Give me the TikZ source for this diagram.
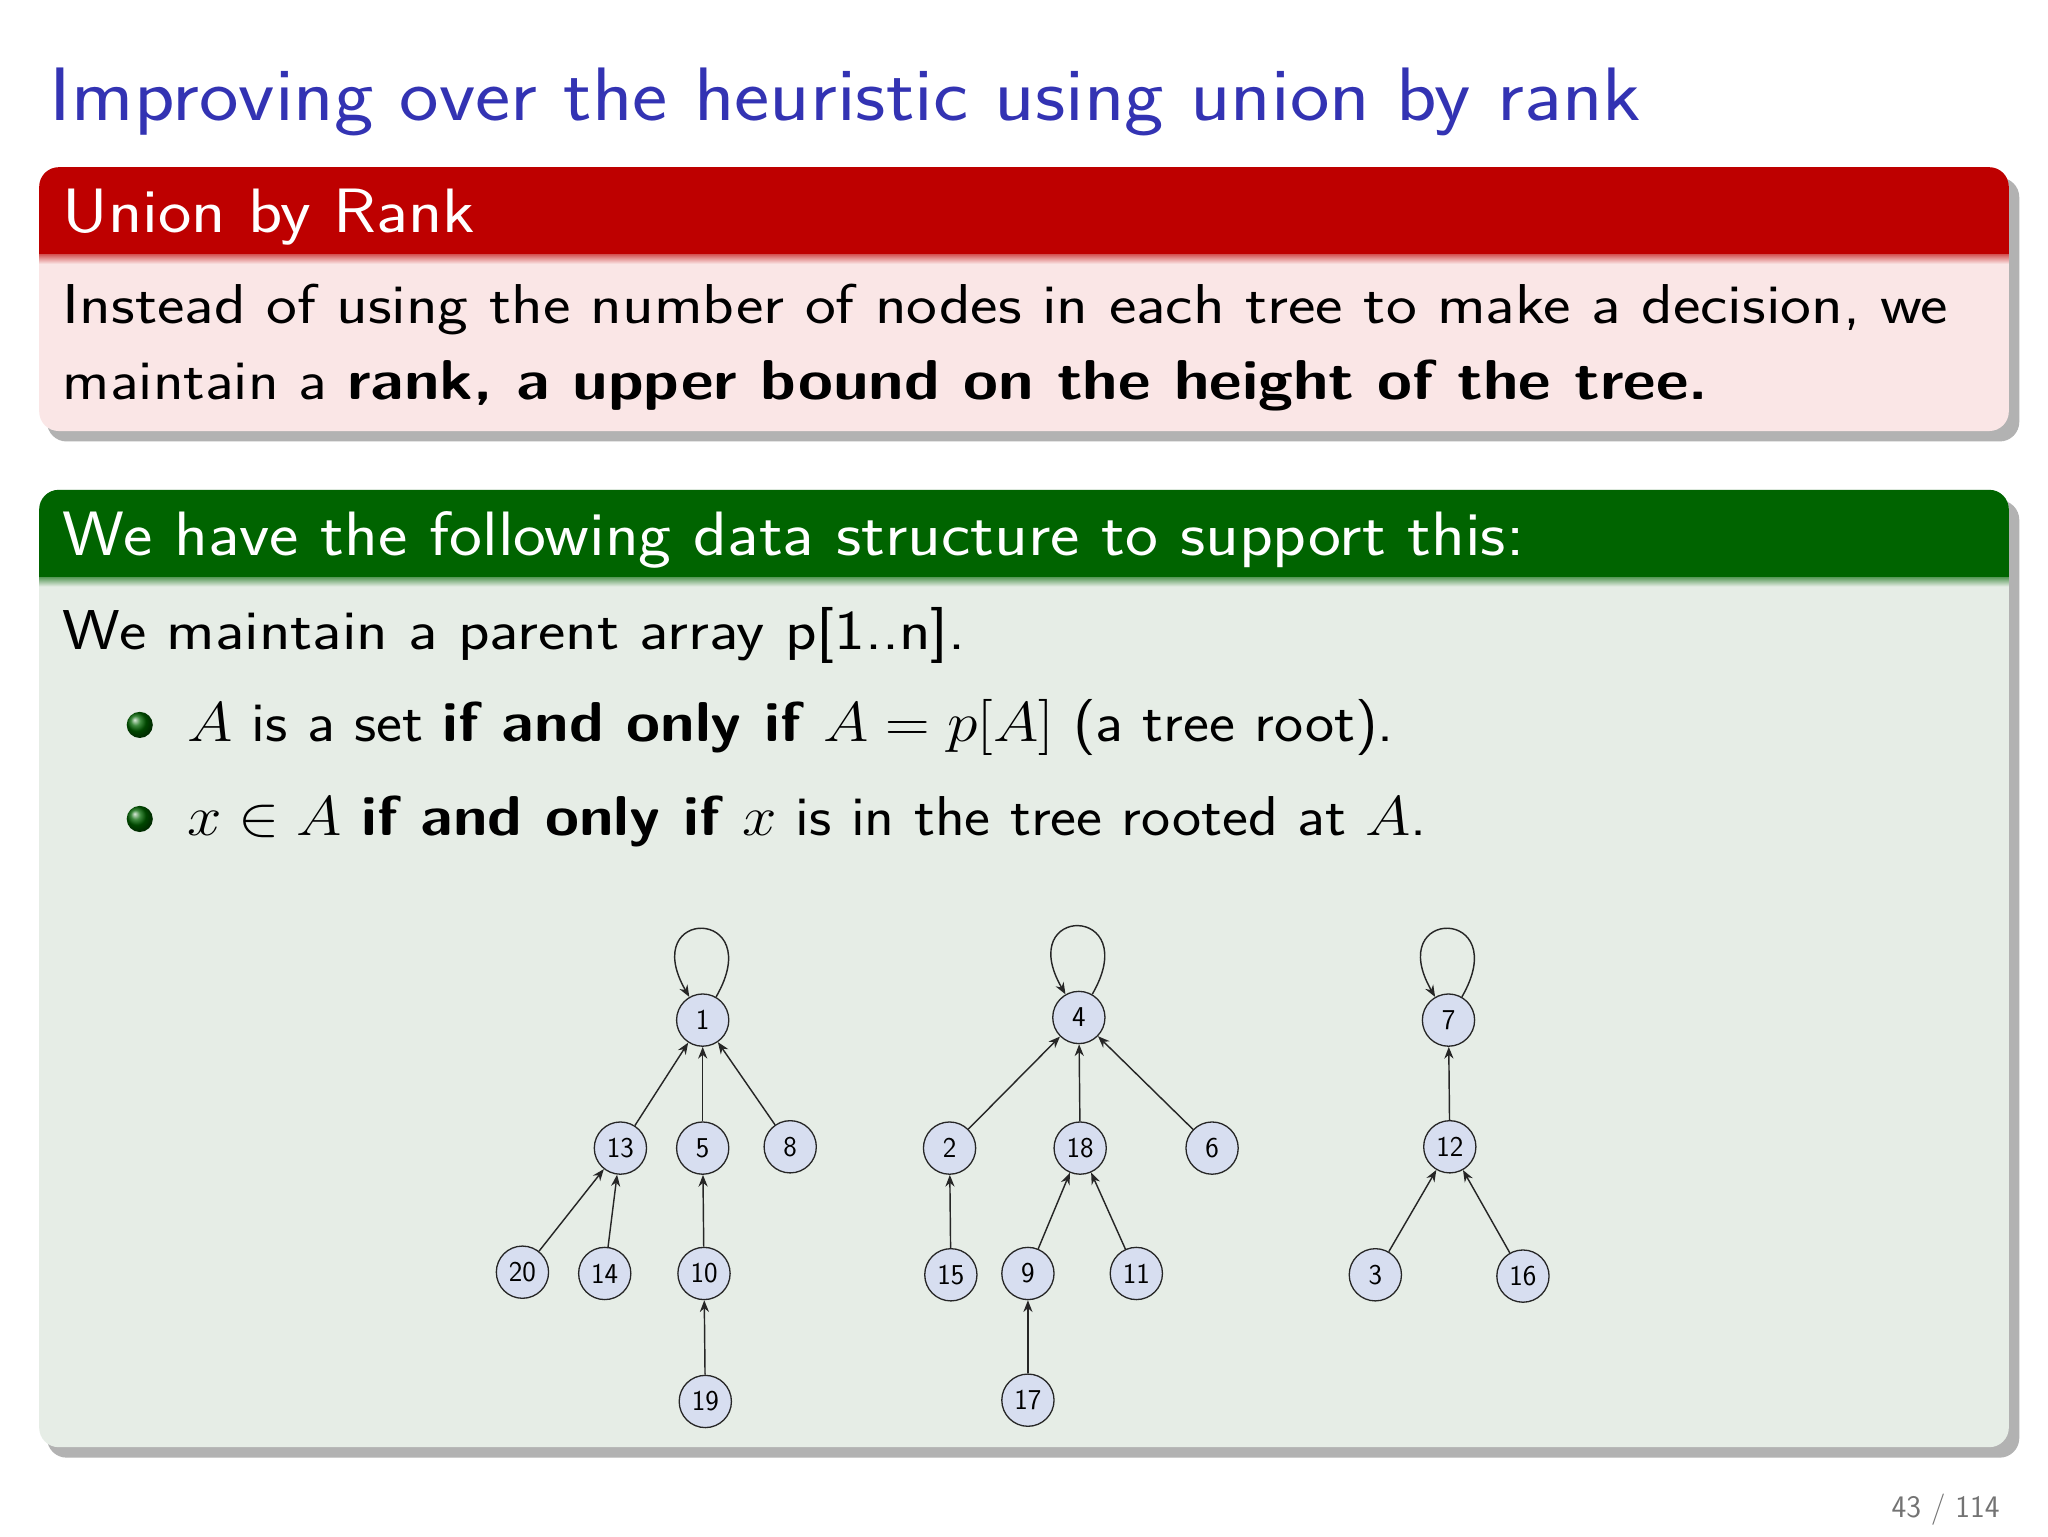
\RequirePackage{fix-cm}
\documentclass[tikz,border=0pt]{standalone}
\usepackage{amsmath}
\usetikzlibrary{arrows.meta}
\definecolor{titleblue}{RGB}{51,51,179}
\definecolor{hred}{RGB}{190,0,0}
\definecolor{bred}{RGB}{250,230,230}
\definecolor{hgreen}{RGB}{0,100,0}
\definecolor{bgreen}{RGB}{230,237,230}
\definecolor{nfill}{RGB}{215,222,240}
\begin{document}
\begin{tikzpicture}[x=1pt,y=-1pt,
  tn/.style={circle,draw=black!85,line width=1pt,fill=nfill,minimum size=40pt,inner sep=0pt,font=\fontsize{22}{24}\selectfont\sffamily},
  ed/.style={-{Stealth[length=9pt,width=7pt]},black!85,line width=1.1pt},
  txt/.style={anchor=base west,inner sep=0pt}]
\useasboundingbox (0,0) rectangle (1568,1176);
\fill[white] (0,0) rectangle (1568,1176);
\sffamily
\node[txt,text=titleblue,font=\fontsize{58}{60}\selectfont\sffamily,xscale=1.107,transform shape] at (38,92) {Improving over the heuristic using union by rank};
% red block
\fill[black!30,rounded corners=15] (36,136) rectangle (1546,338);
\fill[bred,rounded corners=15] (30,128) rectangle (1538,330);
\fill[hred,rounded corners=15] (30,128) rectangle (1538,195);
\fill[hred] (30,170) rectangle (1538,195);
\shade[top color=hred!60!bred,bottom color=bred] (30,195) rectangle (1538,202);
\node[txt,text=white,font=\fontsize{48}{50}\selectfont\sffamily,xscale=1.13,transform shape] at (48,178) {Union by Rank};
\node[txt,font=\fontsize{43}{45}\selectfont\sffamily,xscale=1.165,transform shape] at (48,248) {Instead of using the number of nodes in each tree to make a decision, we};
\node[txt,font=\fontsize{43}{45}\selectfont\sffamily,xscale=1.13,transform shape] at (48,306) {maintain a \textbf{rank, a upper bound on the height of the tree.}};
% green block
\fill[black!30,rounded corners=15] (36,383) rectangle (1546,1116);
\fill[bgreen,rounded corners=15] (30,375) rectangle (1538,1108);
\fill[hgreen,rounded corners=15] (30,375) rectangle (1538,442);
\fill[hgreen] (30,420) rectangle (1538,442);
\shade[top color=hgreen!60!bgreen,bottom color=bgreen] (30,442) rectangle (1538,449);
\node[txt,text=white,font=\fontsize{48}{50}\selectfont\sffamily,xscale=1.115,transform shape] at (48,425) {We have the following data structure to support this:};
\node[txt,font=\fontsize{43}{45}\selectfont\sffamily,xscale=1.16,transform shape] at (48,497) {We maintain a parent array p[1..n].};
\shade[ball color=hgreen] (107,555) circle (10);
\shade[ball color=hgreen] (107,627) circle (10);
\node[txt,font=\fontsize{43}{45}\selectfont\sffamily,xscale=1.1,transform shape] at (143,568) {$A$ is a set \textbf{if and only if} $A=p[A]$ (a tree root).};
\node[txt,font=\fontsize{43}{45}\selectfont\sffamily,xscale=1.1,transform shape] at (143,640) {$x\in A$ \textbf{if and only if} $x$ is in the tree rooted at $A$.};
% trees
\node[tn] (n1) at (538,781) {1};
\node[tn] (n13) at (475,879) {13};
\node[tn] (n5) at (538,879) {5};
\node[tn] (n8) at (605,878) {8};
\node[tn] (n20) at (400,974) {20};
\node[tn] (n14) at (463,975) {14};
\node[tn] (n10) at (539,975) {10};
\node[tn] (n19) at (540,1073) {19};
\node[tn] (n4) at (826,779) {4};
\node[tn] (n2) at (727,879) {2};
\node[tn] (n18) at (827,879) {18};
\node[tn] (n6) at (928,879) {6};
\node[tn] (n15) at (728,976) {15};
\node[tn] (n9) at (787,975) {9};
\node[tn] (n11) at (870,975) {11};
\node[tn] (n17) at (787,1072) {17};
\node[tn] (n7) at (1109,781) {7};
\node[tn] (n12) at (1110,878) {12};
\node[tn] (n3) at (1053,976) {3};
\node[tn] (n16) at (1166,977) {16};
\foreach \c/\p in {n13/n1,n5/n1,n8/n1,n20/n13,n14/n13,n10/n5,n19/n10,
  n2/n4,n18/n4,n6/n4,n15/n2,n9/n18,n11/n18,n17/n9,n12/n7,n3/n12,n16/n12}
  \draw[ed] (\c) -- (\p);
\foreach \r in {n1,n4,n7}
  \draw[ed] (\r.60) .. controls +(-60:80) and +(-120:80) .. (\r.120);
\node[txt,text=black!55,font=\fontsize{24}{26}\selectfont\sffamily] at (1448,1162) {43 / 114};
\end{tikzpicture}
\end{document}
